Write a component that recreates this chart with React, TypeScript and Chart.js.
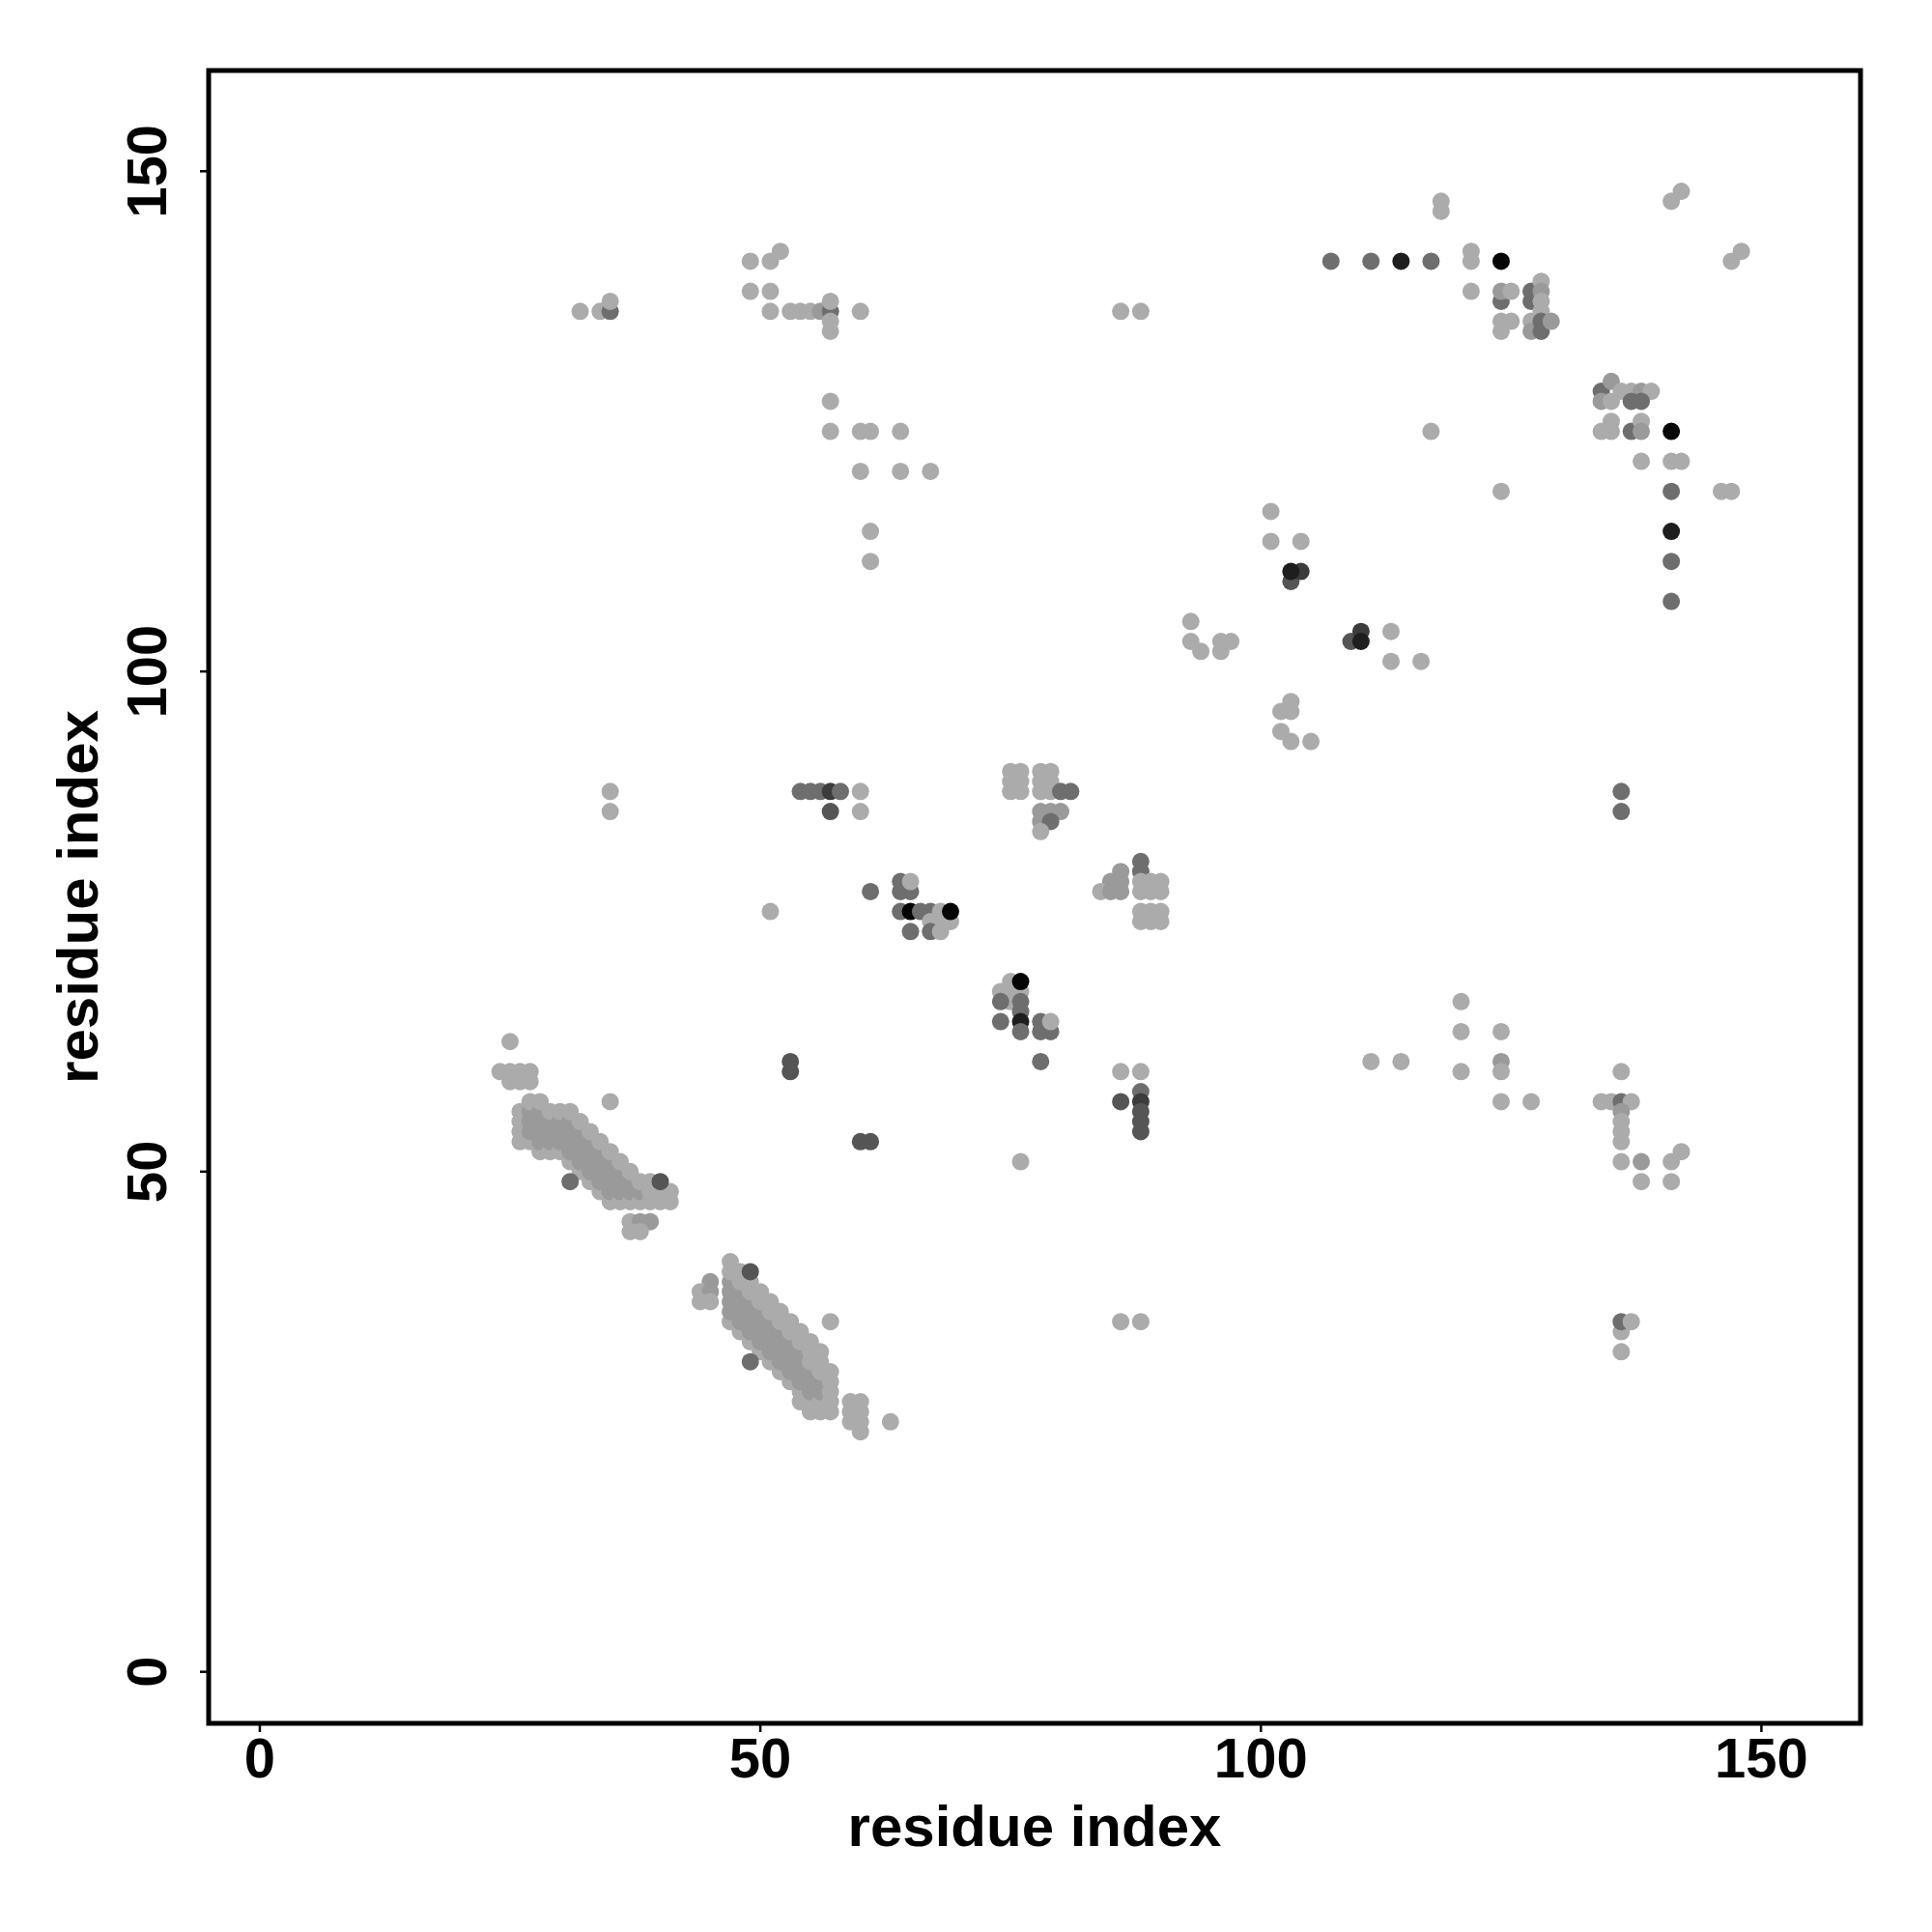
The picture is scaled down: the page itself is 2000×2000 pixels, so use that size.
import React, { useEffect, useRef } from "react";
import { Chart, registerables } from "chart.js";

Chart.register(...registerables);

// ---------- axis content ----------
const xTickValues = [0, 50, 100, 150];
const yTickValues = [0, 50, 100, 150];
const xTitle = "residue index";
const yTitle = "residue index";
const xRange = [-5.11, 159.9];
const yRange = [-5.15, 160.07];

// ---------- contacts: [residue i, residue j, shade level 1 (weak) .. 7 (strong)] ----------
const sheetA: number[][] = [
  [26, 53, 1], [26, 54, 1], [26, 55, 1], [26, 56, 1],
  [27, 53, 1], [27, 54, 2], [27, 55, 2], [27, 56, 2], [27, 57, 1],
  [28, 52, 1], [28, 53, 2], [28, 54, 2], [28, 55, 2], [28, 56, 2], [28, 57, 1],
  [29, 52, 1], [29, 53, 2], [29, 54, 2], [29, 55, 2], [29, 56, 1],
  [30, 52, 1], [30, 53, 2], [30, 54, 2], [30, 55, 2], [30, 56, 1],
  [31, 51, 1], [31, 52, 2], [31, 53, 2], [31, 54, 2], [31, 55, 2], [31, 56, 1],
  [32, 50, 1], [32, 51, 2], [32, 52, 2], [32, 53, 2], [32, 54, 2], [32, 55, 1],
  [33, 49, 1], [33, 50, 2], [33, 51, 2], [33, 52, 2], [33, 53, 2], [33, 54, 1],
  [34, 48, 1], [34, 49, 2], [34, 50, 2], [34, 51, 2], [34, 52, 2], [34, 53, 1],
  [35, 47, 1], [35, 48, 2], [35, 49, 2], [35, 50, 2], [35, 51, 2], [35, 52, 1],
  [36, 47, 1], [36, 48, 2], [36, 49, 2], [36, 50, 2], [36, 51, 1],
  [37, 47, 1], [37, 48, 2], [37, 49, 2], [37, 50, 1],
  [38, 47, 1], [38, 48, 2], [38, 49, 1],
  [39, 47, 1], [39, 48, 1], [39, 49, 1],
  [40, 47, 1], [40, 48, 1],
  [41, 47, 1], [41, 48, 1],
];

const sheetB: number[][] = [
  [47, 35, 1], [47, 36, 2], [47, 37, 2], [47, 38, 2], [47, 39, 2], [47, 40, 1], [47, 41, 1],
  [48, 34, 1], [48, 35, 2], [48, 36, 2], [48, 37, 2], [48, 38, 2], [48, 39, 1], [48, 40, 1],
  [49, 33, 1], [49, 34, 2], [49, 35, 2], [49, 36, 2], [49, 37, 2], [49, 38, 1], [49, 39, 1],
  [50, 32, 1], [50, 33, 2], [50, 34, 2], [50, 35, 2], [50, 36, 2], [50, 37, 1], [50, 38, 1],
  [51, 31, 1], [51, 32, 2], [51, 33, 2], [51, 34, 2], [51, 35, 2], [51, 36, 1], [51, 37, 1],
  [52, 30, 1], [52, 31, 2], [52, 32, 2], [52, 33, 2], [52, 34, 2], [52, 35, 1], [52, 36, 1],
  [53, 29, 1], [53, 30, 2], [53, 31, 2], [53, 32, 2], [53, 33, 2], [53, 34, 1], [53, 35, 1],
  [54, 27, 1], [54, 28, 1], [54, 29, 2], [54, 30, 2], [54, 31, 2], [54, 32, 2], [54, 33, 1], [54, 34, 1],
  [55, 26, 1], [55, 27, 1], [55, 28, 2], [55, 29, 2], [55, 30, 2], [55, 31, 1], [55, 32, 1], [55, 33, 1],
  [56, 26, 1], [56, 27, 1], [56, 28, 2], [56, 29, 2], [56, 30, 1], [56, 31, 1], [56, 32, 1],
  [57, 26, 1], [57, 27, 1], [57, 28, 1], [57, 29, 1], [57, 30, 1],
];

const lowerLeftContacts: number[][] = [
  [25, 63, 1],
  [24, 60, 1], [25, 60, 1], [26, 60, 1], [27, 60, 1], [25, 59, 1], [26, 59, 1], [27, 59, 1],
  [35, 57, 1],
  [31, 49, 3], [40, 49, 4],
  [37, 45, 1], [38, 45, 2], [39, 45, 2], [37, 44, 1], [38, 44, 1],
  [45, 39, 2], [44, 38, 1], [45, 38, 2], [44, 37, 1], [45, 37, 1],
  [49, 40, 4], [49, 31, 3],
  [57, 35, 1],
  [59, 27, 1], [60, 27, 1], [59, 26, 1], [60, 26, 1], [59, 25, 1], [60, 25, 1], [60, 24, 1],
  [63, 25, 1],
  [53, 61, 4], [53, 60, 4], [60, 53, 4], [61, 53, 4],
];

const topLeftContacts: number[][] = [
  [32, 136, 1], [34, 136, 1], [35, 136, 3], [35, 137, 1],
  [49, 141, 1], [51, 141, 1], [52, 142, 1],
  [49, 138, 1], [51, 138, 1],
  [51, 136, 1], [53, 136, 1], [54, 136, 1], [55, 136, 1], [56, 136, 2], [57, 136, 3],
  [57, 137, 1], [57, 135, 1], [57, 134, 1], [60, 136, 1],
  [57, 127, 1],
  [57, 124, 1], [60, 124, 1], [61, 124, 1], [64, 124, 1],
  [60, 120, 1], [64, 120, 1], [67, 120, 1],
  [61, 114, 1], [61, 111, 1],
  [86, 136, 1], [88, 136, 1],
];

const topRightContacts: number[][] = [
  [118, 147, 1], [118, 146, 1],
  [142, 148, 1], [141, 147, 1],
  [148, 142, 1], [147, 141, 1],
  [107, 141, 3], [111, 141, 3], [114, 141, 6], [117, 141, 3],
  [121, 142, 1], [121, 141, 1], [124, 141, 7],
  [121, 138, 1],
  [124, 137, 3], [124, 138, 2], [125, 138, 1],
  [124, 135, 1], [125, 135, 1], [124, 134, 1],
  [127, 138, 3], [127, 137, 3],
  [128, 139, 1], [128, 138, 2], [128, 137, 1], [128, 136, 1],
  [127, 135, 1], [127, 134, 2], [128, 135, 3], [128, 134, 3], [129, 135, 2],
  [134, 128, 3], [135, 129, 2], [136, 128, 1], [137, 128, 1], [138, 128, 2], [139, 128, 1],
  [134, 127, 2], [135, 127, 1], [137, 127, 3], [138, 127, 3],
  [135, 125, 1], [134, 124, 1], [135, 124, 1], [137, 124, 3], [138, 125, 1], [138, 124, 2],
  [141, 124, 7],
  [117, 124, 1],
  [138, 121, 1], [141, 121, 1], [142, 121, 1],
  [141, 118, 3], [141, 114, 6], [141, 111, 3], [141, 107, 3],
  [146, 118, 1], [147, 118, 1],
  [124, 118, 1],
];

const midRightContacts: number[][] = [
  [101, 116, 1], [101, 113, 1], [104, 113, 1],
  [103, 109, 4], [104, 110, 5], [103, 110, 6],
  [109, 103, 4], [110, 104, 5], [110, 103, 6],
  [113, 104, 1], [113, 101, 1], [116, 101, 1],
  [93, 105, 1], [93, 103, 1], [94, 102, 1], [96, 103, 1], [97, 103, 1], [96, 102, 1],
  [103, 97, 1], [102, 96, 1], [103, 96, 1], [102, 94, 1], [103, 93, 1], [105, 93, 1],
  [136, 88, 3], [136, 86, 3],
];

const centreContacts: number[][] = [
  [35, 88, 1], [35, 86, 1],
  [54, 88, 3], [55, 88, 3], [56, 88, 3], [57, 88, 5], [58, 88, 3], [60, 88, 1],
  [57, 86, 4], [60, 86, 1],
  [51, 76, 1],
  [61, 78, 3],
  [64, 79, 3], [64, 78, 3], [65, 78, 3], [65, 79, 1],
  [64, 76, 3], [65, 76, 7], [66, 76, 3], [67, 76, 3], [68, 76, 1],
  [67, 75, 1], [68, 75, 1], [69, 75, 1], [69, 76, 7],
  [65, 74, 3], [67, 74, 3], [68, 74, 1],
  [75, 90, 1], [76, 90, 1], [75, 89, 1], [76, 89, 1], [75, 88, 1], [76, 88, 1],
  [78, 90, 1], [79, 90, 1], [78, 89, 1], [79, 89, 1], [78, 88, 1], [79, 88, 1],
  [80, 88, 3], [81, 88, 3],
  [78, 86, 2], [79, 86, 2], [80, 86, 2], [78, 85, 2], [79, 85, 3], [78, 84, 1],
  [88, 81, 3], [88, 80, 3], [86, 80, 2], [85, 79, 2], [86, 79, 2],
  [84, 78, 1], [85, 78, 2], [86, 78, 2],
  [88, 79, 1], [89, 79, 1], [90, 79, 1], [88, 78, 1], [89, 78, 1], [90, 78, 1],
  [88, 76, 1], [89, 76, 1], [90, 76, 1], [88, 75, 1], [89, 75, 1], [90, 75, 1],
];

const lowerCentreContacts: number[][] = [
  [75, 69, 1], [74, 68, 1], [75, 68, 1], [76, 68, 1], [75, 67, 1], [76, 69, 7],
  [74, 67, 3], [76, 67, 3], [76, 66, 3], [74, 65, 3], [76, 65, 6], [76, 64, 3],
  [78, 65, 3], [78, 64, 3], [79, 64, 3], [79, 65, 1], [78, 61, 3],
  [86, 60, 1], [88, 60, 1], [86, 57, 4], [88, 58, 3], [88, 57, 5], [88, 56, 4], [88, 55, 4], [88, 54, 4],
  [76, 51, 1],
  [86, 35, 1], [88, 35, 1],
];

const lowerRightContacts: number[][] = [
  [111, 61, 1], [114, 61, 1],
  [120, 67, 1], [120, 64, 1], [124, 64, 1], [120, 60, 1], [124, 61, 2], [124, 60, 1], [124, 57, 1], [127, 57, 1],
  [134, 57, 1], [135, 57, 1], [136, 57, 3], [137, 57, 1],
  [136, 60, 1], [136, 56, 2], [136, 55, 1], [136, 54, 1], [136, 53, 1],
  [136, 51, 1], [138, 51, 2], [141, 51, 1], [142, 52, 1], [138, 49, 1], [141, 49, 1],
  [136, 34, 1], [136, 35, 3], [137, 35, 1], [136, 32, 1],
];

const shadeGrays = ["#ffffff", "#ababab", "#9a9a9a", "#6e6e6e", "#555555", "#3c3c3c", "#1e1e1e", "#050505"];

const FONT = "'Liberation Sans', Arial, Helvetica, sans-serif";

const framePlugin = {
  id: "rFrame",
  beforeDraw(chart: any) {
    const ctx = chart.ctx;
    ctx.save();
    ctx.fillStyle = "#ffffff";
    ctx.fillRect(0, 0, chart.width, chart.height);
    ctx.restore();
  },
  afterDraw(chart: any) {
    const ctx = chart.ctx;
    const area = chart.chartArea;
    const xs = chart.scales.x;
    const ys = chart.scales.y;
    ctx.save();
    ctx.strokeStyle = "#000";
    ctx.lineWidth = 5;
    ctx.strokeRect(area.left, area.top, area.right - area.left, area.bottom - area.top);

    ctx.lineWidth = 2.5;
    ctx.fillStyle = "#000";
    ctx.font = `bold 58px ${FONT}`;
    // x ticks
    ctx.textAlign = "center";
    ctx.textBaseline = "alphabetic";
    xTickValues.forEach((v) => {
      const px = xs.getPixelForValue(v);
      ctx.beginPath();
      ctx.moveTo(px, area.bottom);
      ctx.lineTo(px, area.bottom + 9);
      ctx.stroke();
      ctx.fillText(String(v), px, area.bottom + 56);
    });
    // y ticks
    yTickValues.forEach((v) => {
      const py = ys.getPixelForValue(v);
      ctx.beginPath();
      ctx.moveTo(area.left, py);
      ctx.lineTo(area.left - 9, py);
      ctx.stroke();
      ctx.save();
      ctx.translate(area.left - 44, py);
      ctx.rotate(-Math.PI / 2);
      ctx.fillText(String(v), 0, 0);
      ctx.restore();
    });
    // titles
    ctx.font = `bold 60px ${FONT}`;
    ctx.fillText(xTitle, (area.left + area.right) / 2, area.bottom + 127);
    ctx.save();
    ctx.translate(area.left - 115, (area.top + area.bottom) / 2);
    ctx.rotate(-Math.PI / 2);
    ctx.fillText(yTitle, 0, 0);
    ctx.restore();
    ctx.restore();
  },
};

export default function App() {
  const canvasRef = useRef<HTMLCanvasElement | null>(null);

  useEffect(() => {
    if (!canvasRef.current) return;
    const contacts = [
      ...sheetA,
      ...sheetB,
      ...lowerLeftContacts,
      ...topLeftContacts,
      ...topRightContacts,
      ...midRightContacts,
      ...centreContacts,
      ...lowerCentreContacts,
      ...lowerRightContacts,
    ];
    const chart = new Chart(canvasRef.current, {
      type: "scatter",
      data: {
        datasets: [
          {
            data: contacts.map((c) => ({ x: c[0], y: c[1] })),
            pointBackgroundColor: contacts.map((c) => shadeGrays[c[2]]),
            pointBorderWidth: 0,
            pointBorderColor: "rgba(0,0,0,0)",
            pointRadius: 9,
            pointHoverRadius: 9,
            showLine: false,
          },
        ],
      },
      options: {
        animation: false,
        responsive: false,
        devicePixelRatio: 1,
        events: [],
        layout: { padding: { left: 216, top: 73, right: 74, bottom: 216 } },
        plugins: { legend: { display: false }, tooltip: { enabled: false } },
        scales: {
          x: { type: "linear", min: xRange[0], max: xRange[1], display: false },
          y: { type: "linear", min: yRange[0], max: yRange[1], display: false },
        },
      },
      plugins: [framePlugin],
    });
    return () => chart.destroy();
  }, []);

  return (
    <div style={{ position: "absolute", left: 0, top: 0, width: 2000, height: 2000, background: "#fff" }}>
      <canvas ref={canvasRef} width={2000} height={2000} style={{ display: "block", width: 2000, height: 2000 }} />
    </div>
  );
}
